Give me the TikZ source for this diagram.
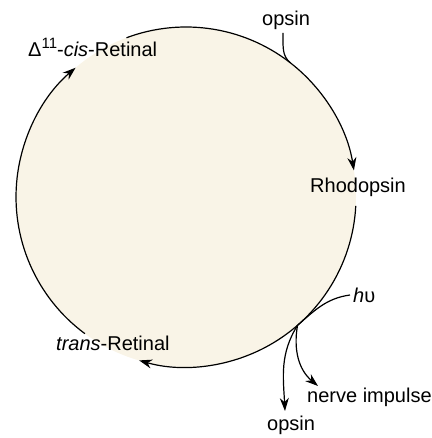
\documentclass[tikz,border=0pt]{standalone}
\usepackage{fontspec}
\setmainfont{Liberation Sans}
\usetikzlibrary{arrows.meta,calc}
\definecolor{cream}{RGB}{249,244,231}
\begin{document}
\begin{tikzpicture}[x=1pt,y=1pt,
  lbl/.style={anchor=base west,inner sep=0pt,font=\fontsize{20}{22}\selectfont},
  cyc/.style={line width=1.2pt},
  arr/.style={line width=1.2pt,-{Stealth[length=13pt,width=9pt]}}]
\useasboundingbox (0,0) rectangle (431,438);
\coordinate (C) at (186,241);
\fill[cream] (C) circle[radius=170];
% labels
\node[lbl] (opsT) at (262,412) {opsin};
\node[lbl] (cis) at (28,381) {Δ\raisebox{0.42em}{\fontsize{15}{15}\selectfont 11}-\textit{cis}-Retinal};
\node[lbl] (rho) at (310,245) {Rhodopsin};
\node[lbl] (hv) at (353,135) {\textit{h}υ};
\node[lbl] (trans) at (56,87) {\textit{trans}-Retinal};
\node[lbl] (nerve) at (307,35) {nerve impulse};
\node[lbl] (opsB) at (267,8) {opsin};
% points on the circle
\coordinate (a1) at ($(C)+(110.5:170)$);
\coordinate (b1) at ($(C)+(-3:170)$);
\coordinate (c1) at ($(C)+(-126.5:170)$);
\coordinate (t1) at ($(C)+(52:170)$);
\coordinate (t2) at ($(C)+(-49:170)$);
% cycle arcs
\draw[arr] (a1) arc[start angle=110.5,end angle=9,radius=170];
\draw[arr] (b1) arc[start angle=-3,end angle=-106,radius=170];
\draw[arr] (c1) arc[start angle=233.5,end angle=130.5,radius=170];
% branches
\coordinate (o1) at (283,405);
\draw[cyc] (o1) to[out=-88,in=142] (t1);
\coordinate (h1) at (350,143);
\draw[cyc] (h1) to[out=188,in=41] (t2);
\coordinate (e1) at (285,27);
\coordinate (e2) at (318,52);
\draw[arr] (t2) to[out=-122,in=93] (e1);
\draw[arr] (t2) to[out=-100,in=140] (e2);
\end{tikzpicture}
\end{document}
